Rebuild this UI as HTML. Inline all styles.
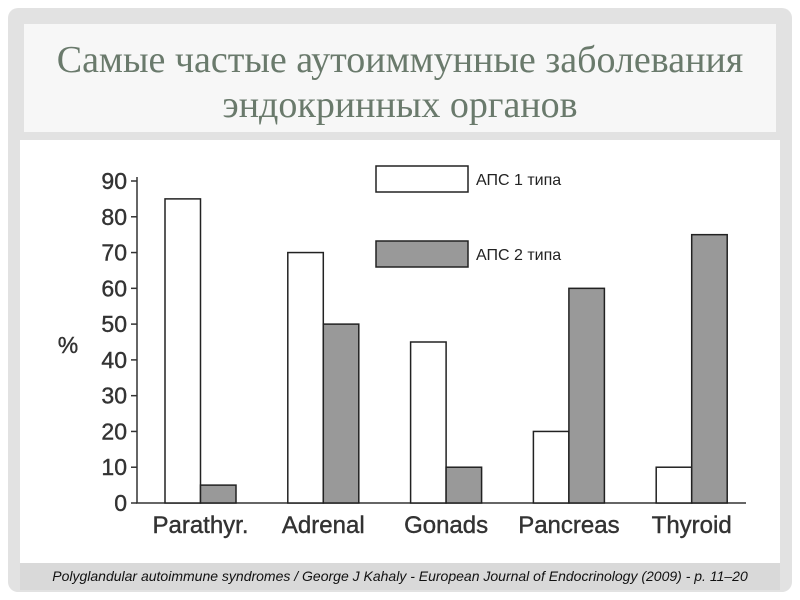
<!DOCTYPE html>
<html><head><meta charset="utf-8"><style>
body{margin:0;width:800px;height:600px;background:#fff;position:relative;overflow:hidden;font-family:"Liberation Sans",sans-serif}
#frame{position:absolute;left:8px;top:8px;width:784px;height:584px;background:#e2e2e2;border-radius:10px}
#titlebox{position:absolute;left:24px;top:24px;width:752px;height:108px;background:#f7f7f7}
#title{position:absolute;left:24px;top:38px;width:752px;text-align:center;font-family:"Liberation Serif",serif;font-size:38px;line-height:45px;color:#6a7a6c}
#chartbg{position:absolute;left:20px;top:140px;width:760px;height:423px;background:#fff}
#footer{position:absolute;left:20px;top:563px;width:760px;height:27px;background:#d9d9d9;font-style:italic;font-size:14px;line-height:27px;text-align:center;color:#111}
svg{position:absolute;left:0;top:0}
</style></head><body>
<div id="frame"></div>
<div id="titlebox"></div>
<div id="title">Самые частые аутоиммунные заболевания<br>эндокринных органов</div>
<div id="chartbg"></div>
<div id="footer">Polyglandular autoimmune syndromes / George J Kahaly - European Journal of Endocrinology (2009) - p. 11–20</div>
<svg id="chart" width="800" height="600"></svg>
<script>
const categories=["Parathyr.","Adrenal","Gonads","Pancreas","Thyroid"];
const apsType1=[85,70,45,20,10];
const apsType2=[5,50,10,60,75];
const yTicks=[0,10,20,30,40,50,60,70,80,90];
const seriesNames=["АПС 1 типа","АПС 2 типа"];
const svg=document.getElementById('chart');
const NS="http://www.w3.org/2000/svg";
const y0=503,yPer=(503-181)/90;
const yScale=v=>y0-v*yPer;
const xScale=i=>165+i*122.8;
const bw=35.5;
function mk(tag,attrs){const e=document.createElementNS(NS,tag);for(const k in attrs)e.setAttribute(k,attrs[k]);svg.appendChild(e);return e;}
let a=mk('line',{x1:137,y1:yScale(90)-4,x2:137,y2:y0,stroke:'#333','stroke-width':1.5});


a=mk('line',{x1:136,y1:y0,x2:746,y2:y0,stroke:'#333','stroke-width':1.5});


yTicks.forEach(t=>{
 const tk=mk('line',{x1:131,x2:137,y1:yScale(t),y2:yScale(t),stroke:'#333','stroke-width':1.5});
 
 
 const tx=mk('text',{x:127,y:yScale(t)+8,'text-anchor':'end','font-size':23,fill:'#333',stroke:'#333','stroke-width':0.4});
 tx.textContent=t;
 
 
});
const yt=mk('text',{x:68,y:353,'text-anchor':'middle','font-size':23,fill:'#333',stroke:'#333','stroke-width':0.4});
yt.textContent='%';


categories.forEach((c,i)=>{
 const x=xScale(i);
 const b1=mk('rect',{x:x,y:yScale(apsType1[i]),width:bw,height:y0-yScale(apsType1[i]),fill:'#fff',stroke:'#222','stroke-width':1.5});
 
 
 const b2=mk('rect',{x:x+bw,y:yScale(apsType2[i]),width:bw,height:y0-yScale(apsType2[i]),fill:'#999',stroke:'#222','stroke-width':1.5});
 
 
 const l=mk('text',{x:x+bw,y:533,'text-anchor':'middle','font-size':24,fill:'#333',stroke:'#333','stroke-width':0.4});
 l.textContent=c;
 
 
});
[["#fff",166],["#999",241]].forEach((s,i)=>{
 const r=mk('rect',{x:376,y:s[1],width:92,height:26,fill:s[0],stroke:'#222','stroke-width':1.5});
 
 
 const t=mk('text',{x:476,y:s[1]+19,'font-size':16,fill:'#222'});
 t.textContent=seriesNames[i];
 
 
});
</script>
</body></html>
